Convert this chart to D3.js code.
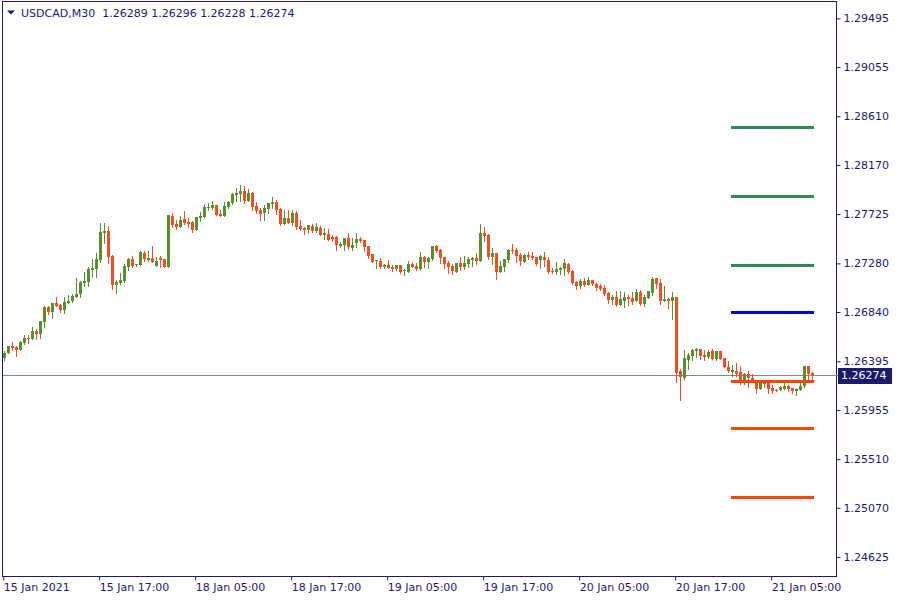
<!DOCTYPE html>
<html><head><meta charset="utf-8">
<script src="https://cdn.jsdelivr.net/npm/d3@7"></script>
<style>html,body{margin:0;padding:0;background:#fff;} svg{display:block;font-family:"DejaVu Sans",sans-serif;}</style>
</head><body><svg id="chart" width="900" height="600"></svg>
<script>
const symbol = "USDCAD,M30";

const open = [1.26427,1.26472,1.26535,1.26526,1.26499,1.26562,1.26608,1.26599,1.26671,1.26644,
1.26752,1.26887,1.26842,1.26924,1.26906,1.26860,1.26924,1.26942,1.26978,1.27005,
1.27104,1.27113,1.27222,1.27231,1.27312,1.27556,1.27574,1.27348,1.27086,1.27104,
1.27122,1.27249,1.27321,1.27267,1.27267,1.27375,1.27312,1.27330,1.27258,1.27330,
1.27321,1.27249,1.27710,1.27637,1.27610,1.27683,1.27655,1.27655,1.27583,1.27692,
1.27701,1.27782,1.27782,1.27809,1.27728,1.27710,1.27791,1.27827,1.27900,1.27909,
1.27936,1.27845,1.27918,1.27800,1.27764,1.27737,1.27773,1.27818,1.27836,1.27773,
1.27637,1.27692,1.27646,1.27737,1.27619,1.27601,1.27583,1.27619,1.27574,1.27601,
1.27538,1.27547,1.27520,1.27520,1.27438,1.27447,1.27511,1.27420,1.27466,1.27502,
1.27493,1.27438,1.27366,1.27303,1.27303,1.27249,1.27267,1.27249,1.27231,1.27267,
1.27213,1.27204,1.27276,1.27258,1.27231,1.27339,1.27294,1.27321,1.27438,1.27402,
1.27339,1.27285,1.27258,1.27204,1.27285,1.27249,1.27276,1.27312,1.27330,1.27303,
1.27556,1.27538,1.27339,1.27375,1.27204,1.27249,1.27312,1.27402,1.27402,1.27357,
1.27294,1.27357,1.27348,1.27339,1.27312,1.27339,1.27312,1.27213,1.27204,1.27222,
1.27231,1.27276,1.27213,1.27113,1.27077,1.27122,1.27086,1.27131,1.27095,1.27077,
1.27059,1.27014,1.26951,1.26978,1.26906,1.26942,1.26978,1.26969,1.26942,1.27023,
1.26915,1.26969,1.27014,1.27150,1.27104,1.26942,1.26960,1.26942,1.26978,1.26309,
1.26246,1.26409,1.26445,1.26490,1.26508,1.26454,1.26436,1.26490,1.26418,1.26490,
1.26427,1.26346,1.26300,1.26309,1.26300,1.26210,1.26282,1.26246,1.26210,1.26147,
1.26210,1.26210,1.26156,1.26138,1.26138,1.26147,1.26174,1.26156,1.26129,1.26138,
1.26174,1.26355,1.26289];

const high = [1.26490,1.26535,1.26571,1.26535,1.26580,1.26635,1.26635,1.26707,1.26689,1.26761,
1.26896,1.26896,1.26924,1.26978,1.26915,1.26978,1.26996,1.27005,1.27150,1.27122,
1.27204,1.27249,1.27321,1.27375,1.27646,1.27646,1.27619,1.27357,1.27131,1.27195,
1.27276,1.27330,1.27348,1.27276,1.27393,1.27393,1.27393,1.27438,1.27339,1.27348,
1.27321,1.27719,1.27737,1.27674,1.27710,1.27755,1.27692,1.27664,1.27701,1.27746,
1.27818,1.27827,1.27845,1.27809,1.27764,1.27836,1.27845,1.27918,1.27963,1.27990,
1.27981,1.27954,1.27927,1.27836,1.27782,1.27809,1.27827,1.27882,1.27854,1.27782,
1.27764,1.27764,1.27764,1.27755,1.27674,1.27610,1.27628,1.27637,1.27646,1.27619,
1.27601,1.27592,1.27538,1.27529,1.27475,1.27511,1.27556,1.27511,1.27556,1.27520,
1.27493,1.27438,1.27366,1.27312,1.27330,1.27276,1.27312,1.27267,1.27267,1.27267,
1.27231,1.27303,1.27294,1.27285,1.27384,1.27348,1.27339,1.27438,1.27447,1.27411,
1.27339,1.27303,1.27276,1.27285,1.27339,1.27348,1.27339,1.27339,1.27375,1.27637,
1.27610,1.27547,1.27420,1.27375,1.27303,1.27321,1.27411,1.27457,1.27420,1.27375,
1.27366,1.27384,1.27384,1.27339,1.27357,1.27384,1.27339,1.27240,1.27294,1.27249,
1.27321,1.27285,1.27222,1.27122,1.27141,1.27150,1.27159,1.27131,1.27104,1.27095,
1.27086,1.27023,1.26996,1.27032,1.27032,1.27023,1.26996,1.27023,1.27050,1.27041,
1.26996,1.27032,1.27159,1.27150,1.27141,1.27077,1.26969,1.27023,1.26978,1.26328,
1.26499,1.26472,1.26508,1.26517,1.26508,1.26499,1.26499,1.26508,1.26490,1.26490,
1.26427,1.26400,1.26364,1.26382,1.26355,1.26291,1.26309,1.26282,1.26219,1.26210,
1.26219,1.26219,1.26183,1.26147,1.26174,1.26201,1.26183,1.26156,1.26156,1.26201,
1.26355,1.26355,1.26296];

const low = [1.26409,1.26472,1.26499,1.26445,1.26499,1.26553,1.26562,1.26599,1.26599,1.26608,
1.26707,1.26824,1.26788,1.26896,1.26842,1.26833,1.26924,1.26933,1.26978,1.26978,
1.27077,1.27077,1.27159,1.27159,1.27294,1.27466,1.27285,1.27050,1.27014,1.27095,
1.27113,1.27222,1.27249,1.27258,1.27267,1.27303,1.27303,1.27294,1.27258,1.27249,
1.27249,1.27249,1.27610,1.27592,1.27610,1.27637,1.27610,1.27565,1.27583,1.27664,
1.27701,1.27764,1.27773,1.27719,1.27710,1.27710,1.27782,1.27818,1.27845,1.27845,
1.27827,1.27845,1.27764,1.27737,1.27674,1.27674,1.27737,1.27782,1.27728,1.27628,
1.27637,1.27646,1.27628,1.27592,1.27583,1.27547,1.27556,1.27565,1.27565,1.27538,
1.27502,1.27493,1.27484,1.27402,1.27429,1.27402,1.27411,1.27402,1.27429,1.27475,
1.27393,1.27330,1.27294,1.27240,1.27240,1.27240,1.27240,1.27213,1.27222,1.27195,
1.27177,1.27204,1.27249,1.27222,1.27222,1.27249,1.27240,1.27312,1.27384,1.27285,
1.27240,1.27195,1.27186,1.27204,1.27222,1.27231,1.27249,1.27258,1.27276,1.27303,
1.27484,1.27321,1.27276,1.27141,1.27204,1.27213,1.27294,1.27375,1.27294,1.27267,
1.27294,1.27321,1.27321,1.27267,1.27240,1.27258,1.27195,1.27195,1.27186,1.27186,
1.27177,1.27195,1.27095,1.27050,1.27059,1.27077,1.27086,1.27086,1.27041,1.27041,
1.26996,1.26924,1.26915,1.26896,1.26906,1.26887,1.26906,1.26915,1.26942,1.26906,
1.26896,1.26969,1.26996,1.27059,1.26915,1.26942,1.26878,1.26779,1.26210,1.26047,
1.26237,1.26328,1.26409,1.26436,1.26418,1.26409,1.26427,1.26418,1.26409,1.26418,
1.26346,1.26300,1.26264,1.26264,1.26192,1.26192,1.26165,1.26210,1.26111,1.26147,
1.26165,1.26111,1.26111,1.26129,1.26138,1.26147,1.26129,1.26111,1.26093,1.26138,
1.26165,1.26237,1.26228];

const close = [1.26472,1.26535,1.26517,1.26499,1.26571,1.26608,1.26599,1.26671,1.26644,1.26761,
1.26887,1.26842,1.26924,1.26896,1.26860,1.26933,1.26942,1.26987,1.27005,1.27113,
1.27122,1.27231,1.27240,1.27321,1.27565,1.27574,1.27339,1.27086,1.27113,1.27131,
1.27258,1.27321,1.27258,1.27276,1.27384,1.27321,1.27330,1.27294,1.27303,1.27312,
1.27249,1.27719,1.27628,1.27610,1.27674,1.27646,1.27637,1.27583,1.27701,1.27710,
1.27791,1.27791,1.27809,1.27719,1.27710,1.27800,1.27836,1.27909,1.27918,1.27936,
1.27845,1.27918,1.27791,1.27755,1.27728,1.27782,1.27827,1.27836,1.27764,1.27637,
1.27692,1.27646,1.27737,1.27610,1.27592,1.27583,1.27628,1.27574,1.27610,1.27538,
1.27556,1.27493,1.27502,1.27447,1.27457,1.27511,1.27429,1.27447,1.27502,1.27484,
1.27429,1.27348,1.27294,1.27312,1.27249,1.27267,1.27240,1.27231,1.27267,1.27204,
1.27222,1.27276,1.27249,1.27231,1.27339,1.27294,1.27330,1.27438,1.27393,1.27330,
1.27276,1.27249,1.27213,1.27285,1.27249,1.27285,1.27321,1.27330,1.27303,1.27556,
1.27529,1.27339,1.27375,1.27204,1.27258,1.27321,1.27402,1.27393,1.27348,1.27303,
1.27357,1.27339,1.27330,1.27276,1.27348,1.27312,1.27204,1.27204,1.27231,1.27240,
1.27285,1.27204,1.27104,1.27077,1.27122,1.27086,1.27131,1.27095,1.27059,1.27050,
1.27005,1.26951,1.26978,1.26906,1.26960,1.26978,1.26960,1.26933,1.27023,1.26915,
1.26978,1.27032,1.27141,1.27095,1.26942,1.26960,1.26942,1.26978,1.26291,1.26255,
1.26427,1.26454,1.26499,1.26508,1.26445,1.26436,1.26481,1.26418,1.26490,1.26418,
1.26346,1.26309,1.26318,1.26282,1.26210,1.26282,1.26246,1.26219,1.26147,1.26210,
1.26192,1.26147,1.26129,1.26138,1.26165,1.26174,1.26147,1.26129,1.26147,1.26174,
1.26355,1.26282,1.26274];

const xTickBars = [0, 24, 48, 72, 96, 120, 144, 168, 192];
const xTickLabels = ["15 Jan 2021","15 Jan 17:00","18 Jan 05:00","18 Jan 17:00","19 Jan 05:00","19 Jan 17:00","20 Jan 05:00","20 Jan 17:00","21 Jan 05:00"];
const yTickLabels = ["1.29495","1.29055","1.28610","1.28170","1.27725","1.27280","1.26840","1.26395","1.25955","1.25510","1.25070","1.24625"];

const levelPrices = [1.28512, 1.27889, 1.27269, 1.26841, 1.26217, 1.25791, 1.25167];
const levelKinds  = ["target","target","target","entry","stop","stop","stop"];
const levelFromBar = 182, levelToBar = 202;

// ---------- styles ----------
const C = {
  navy: "#1a1a72", bull: "#58902c", bear: "#f24d24", grid: "#7d8896",
  target: "#2e8b57", entry: "#0000f0", stop: "#ff4500", box: "#1b1b6b"
};
const L = { left: 2, right: 836, top: 1, bottom: 576 };

const N = open.length;
const bars = d3.range(N).map(i => ({i, o: open[i], h: high[i], l: low[i], c: close[i]}));

const svg = d3.select("#chart");
const x = d3.scaleLinear().domain([0, N - 1]).range([3.7, 811.7]);
const y = d3.scaleLinear().domain([1.24625, 1.29495]).range([557, 18.4]);

svg.append("defs").append("clipPath").attr("id", "plotclip")
  .append("rect").attr("x", L.left + 1).attr("y", L.top + 1)
  .attr("width", L.right - L.left - 1).attr("height", L.bottom - L.top - 1);

const plot = svg.append("g").attr("clip-path", "url(#plotclip)");

// current price (close of last bar) line
const last = close[N - 1];
const ly = Math.round(y(last)) + 0.5;
plot.append("line").attr("x1", L.left).attr("x2", L.right).attr("y1", ly).attr("y2", ly)
  .attr("stroke", C.grid).attr("stroke-width", 1);

// candles
const cg = plot.append("g");
const cand = cg.selectAll("g.c").data(bars).join("g").attr("class", "c")
  .attr("fill", d => d.c > d.o ? C.bull : C.bear);
cand.append("rect")
  .attr("x", d => Math.round(x(d.i)))
  .attr("width", 1)
  .attr("y", d => Math.round(y(d.h)))
  .attr("height", d => Math.max(1, Math.round(y(d.l)) - Math.round(y(d.h)) + 1));
cand.append("rect")
  .attr("x", d => Math.round(x(d.i)) - 1)
  .attr("width", 3)
  .attr("y", d => Math.round(y(Math.max(d.o, d.c))))
  .attr("height", d => Math.max(1, Math.round(y(Math.min(d.o, d.c))) - Math.round(y(Math.max(d.o, d.c)))));

// level lines
const levels = levelPrices.map((p, k) => ({p, kind: levelKinds[k]}));
plot.selectAll("line.lvl").data(levels).join("line").attr("class", "lvl")
  .attr("x1", Math.round(x(levelFromBar)) - 1)
  .attr("x2", Math.round(x(levelToBar)) + 2)
  .attr("y1", d => Math.round(y(d.p)) + 0.5)
  .attr("y2", d => Math.round(y(d.p)) + 0.5)
  .attr("stroke", d => C[d.kind]).attr("stroke-width", 3);

// frame
svg.append("rect").attr("x", L.left + 0.5).attr("y", L.top + 0.5)
  .attr("width", L.right - L.left).attr("height", L.bottom - L.top)
  .attr("fill", "none").attr("stroke", C.navy).attr("stroke-width", 1);

// y axis
const yAxis = d3.axisRight(y)
  .tickValues(yTickLabels.map(Number))
  .tickFormat((d, i) => yTickLabels[i])
  .tickSize(4).tickPadding(3);
const yg = svg.append("g").attr("transform", `translate(${L.right + 0.5},0)`).call(yAxis);
yg.select(".domain").remove();
yg.selectAll(".tick line").attr("stroke", C.navy);
yg.selectAll(".tick text").attr("fill", C.navy).style("font-size", "11px").style("font-family", "DejaVu Sans");

// x axis
const xAxis = d3.axisBottom(x)
  .tickValues(xTickBars)
  .tickFormat((d, i) => xTickLabels[i])
  .tickSize(4).tickPadding(3);
const xg = svg.append("g").attr("transform", `translate(-0.5,${L.bottom + 0.5})`).call(xAxis);
xg.select(".domain").remove();
xg.selectAll(".tick line").attr("stroke", C.navy);
xg.selectAll(".tick text").attr("fill", C.navy).attr("text-anchor", "start").attr("x", 0)
  .style("font-size", "11px").style("font-family", "DejaVu Sans");

// current price marker on the axis
svg.append("line").attr("x1", L.right).attr("x2", L.right + 3).attr("y1", ly).attr("y2", ly)
  .attr("stroke", C.grid);
svg.append("rect").attr("x", L.right + 2).attr("y", Math.round(y(last)) - 7)
  .attr("width", 54).attr("height", 16).attr("fill", C.box);
svg.append("text").attr("x", L.right + 5).attr("y", y(last)).attr("dy", "0.36em")
  .attr("fill", "#fff").style("font-size", "11px").text(d3.format(".5f")(last));

// title
svg.append("path").attr("d", "M7,10.5 L15,10.5 L11,14.5 Z").attr("fill", C.navy);
svg.append("text").attr("x", 21).attr("y", 17).attr("fill", C.navy).style("font-size", "11px")
  .attr("xml:space", "preserve").style("white-space", "pre")
  .text(`${symbol}  ${d3.format(".5f")(open[N-1])} ${d3.format(".5f")(high[N-1])} ${d3.format(".5f")(low[N-1])} ${d3.format(".5f")(last)}`);
</script>
</body></html>
